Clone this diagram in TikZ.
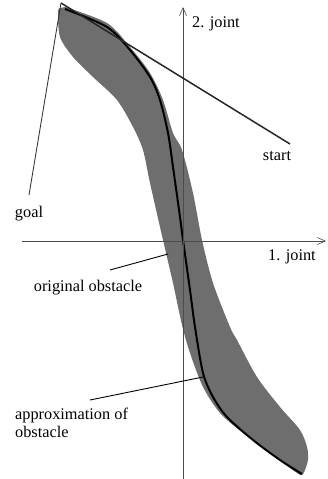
\documentclass[tikz,border=0pt]{standalone}
\usepackage{fontspec}
\setmainfont{Liberation Serif}
\usetikzlibrary{arrows.meta}
\usetikzlibrary{positioning}
\definecolor{obstgray}{gray}{0.43}

\begin{document}
\begin{tikzpicture} [x=1pt,y=-1pt]
	 \tikzstyle{axis}=[draw,line width=0.6pt,black!70,-{Straight Barb[length=8pt,width=7pt]}]
	 \tikzstyle{lbl}=[inner sep=0pt,font=\fontsize{16.3}{18}\selectfont]
	 \tikzstyle{pathline}=[draw,line width=1.5pt,black!85]
	 \tikzstyle{pointer}=[draw,line width=0.9pt,black]
	 \useasboundingbox (0,0) rectangle (327,479);

	 % obstacle
	 \fill[obstgray] plot[smooth,tension=0.5] coordinates {(60,8) (58,12) (60,37) (73,57) (93,77)
		(117,100) (133,127) (143,150) (150,183) (163,240) (173,283) (182,325) (190,353)
		(203,387) (220,413) (243,433) (270,453) (297,473) (303,474) (308,460) (307,447)
		(300,430) (280,407) (257,377) (237,340) (230,327) (213,283) (202,240) (193,193)
		(182,150) (173,133) (163,100) (150,73) (130,47) (107,23) (65,7)} -- cycle;
	 \draw[line width=2pt,black] plot[smooth,tension=0.5] coordinates {(65,9) (107,27) (130,50)
		(150,77) (160,100) (168,133) (173,167) (180,217) (183,240) (190,290) (195,327)
		(203,373) (213,397) (227,417) (253,440) (280,460) (302,474)};

	 % axes
	 \coordinate (o1) at (22,241);
	 \coordinate (e1) at (326,241);
	 \coordinate (o2) at (183,479);
	 \coordinate (e2) at (183,7);
	 \draw[axis] (o1) -- (e1);
	 \draw[axis] (o2) -- (e2);
	 \node[lbl,anchor=west] (j2) at (192,24) {2. joint};
	 \node[lbl,anchor=west] (j1) at (268,257) {1. joint};

	 % start and goal
	 \coordinate (apex) at (61,3);
	 \coordinate (s) at (290,144);
	 \coordinate (g) at (29,195);
	 \node[lbl] (start) at (277,156) {start};
	 \node[lbl] (goal) at (29,214) {goal};
	 \draw[pathline] (apex) -- (s);
	 \draw[draw,line width=0.9pt,black!80] (apex) -- (g);

	 % labels
	 \node[lbl] (orig) at (88,288) {original obstacle};
	 \node[lbl,align=left,anchor=north west] (approx) at (15,408) {approximation of\\obstacle};
	 \coordinate (p1) at (110,270);
	 \coordinate (q1) at (168,254);
	 \coordinate (p2) at (90,400);
	 \coordinate (q2) at (203,377);
	 \draw[pointer] (p1) -- (q1);
	 \draw[pointer] (p2) -- (q2);
 \end{tikzpicture}
\end{document}
